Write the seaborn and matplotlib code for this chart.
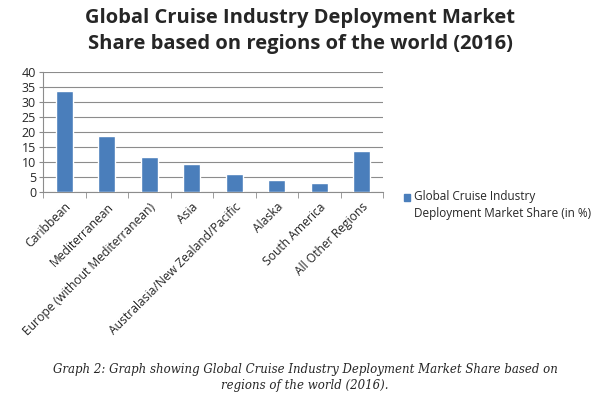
import matplotlib
matplotlib.use("Agg")
import matplotlib.pyplot as plt
import seaborn as sns
import pandas as pd
import numpy as np

categories = ["Caribbean", "Mediterranean", "Europe (without Mediterranean)", "Asia",
              "Australasia/New Zealand/Pacific", "Alaska", "South America", "All Other Regions"]
values = [33.7, 18.8, 11.8, 9.2, 6.0, 4.1, 2.9, 13.7]
series_name = "Global Cruise Industry\nDeployment Market Share (in %)"
title = "Global Cruise Industry Deployment Market\nShare based on regions of the world (2016)"
caption = ("Graph 2: Graph showing Global Cruise Industry Deployment Market Share based on\n"
           "regions of the world (2016).")
y_ticks = [0, 5, 10, 15, 20, 25, 30, 35, 40]

sns.set_style("white")
plt.rcParams["font.family"] = ["Open Sans", "DejaVu Sans"]

df = pd.DataFrame({"Region": categories, "Share": values})

fig = plt.figure(figsize=(6, 4), dpi=100)
ax = fig.add_axes([43/600, 1-192/400, 340/600, 120/400])
sns.barplot(data=df, x="Region", y="Share", color="#4a7ebb", width=0.4,
            saturation=1, ax=ax, zorder=3)

ax.set_ylim(0, 40)
ax.set_yticks(y_ticks)
ax.set_xlim(-0.5, len(categories) - 0.5)
ax.yaxis.grid(True, color="#8c8c8c", linewidth=0.8, zorder=0)
ax.set_axisbelow(True)
for s in ["top", "right"]:
    ax.spines[s].set_visible(False)
for s in ["left", "bottom"]:
    ax.spines[s].set_color("#8c8c8c")
    ax.spines[s].set_linewidth(0.8)
ax.set_xlabel("")
ax.set_ylabel("")
ax.tick_params(axis="y", labelsize=9, length=3, color="#8c8c8c", left=True, pad=2)
ax.set_xticks(np.arange(len(categories)))
ax.set_xticklabels(categories, rotation=45, ha="right", rotation_mode="anchor", fontsize=8.7)
ax.tick_params(axis="x", length=0, pad=6)
# boundary ticks
ax.set_xticks(np.arange(len(categories) + 1) - 0.5, minor=True)
ax.tick_params(axis="x", which="minor", length=4, color="#8c8c8c", bottom=True)

fig.text(0.5, 1-31/400, title, ha="center", va="center", fontsize=14.5,
         fontweight="bold", linespacing=1.45)

fig.patches.append(plt.Rectangle((404/600, 1-201/400), 6/600, 7/400, color="#4a7ebb",
                                 transform=fig.transFigure, figure=fig))
fig.text(414/600, 1-205/400, series_name, ha="left", va="center", fontsize=8.5,
         linespacing=1.4)

fig.text(305/600, 1-378/400, caption, ha="center", va="center", fontsize=8.5,
         family="DejaVu Serif", style="italic", linespacing=1.3)

fig.savefig("out.png", dpi=100)
